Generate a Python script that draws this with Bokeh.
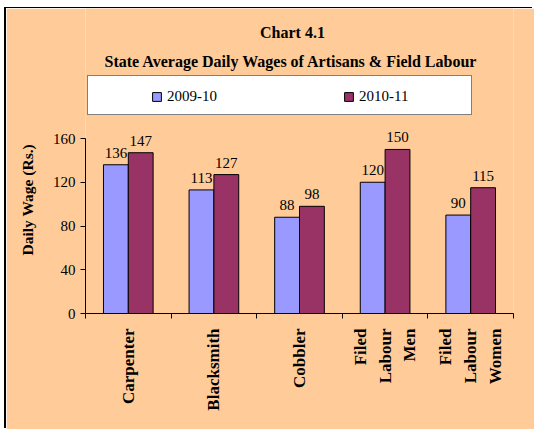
import math
from bokeh.plotting import figure
from bokeh.models import ColumnDataSource, Range1d, FixedTicker, Legend, LegendItem, Label, Title
from bokeh.core.properties import value
from bokeh.embed import file_html
from bokeh.resources import INLINE

# ---- data ----
categories = ["Carpenter", "Blacksmith", "Cobbler", "Filed\nLabour\nMen", "Filed\nLabour\nWomen"]
series_names = ["2009-10", "2010-11"]
wages_2009_10 = [136, 113, 88, 120, 90]
wages_2010_11 = [147, 127, 98, 150, 115]
y_ticks = [0, 40, 80, 120, 160]
chart_title = "Chart 4.1"
chart_subtitle = "State Average Daily Wages of Artisans & Field Labour"
y_label = "Daily Wage (Rs.)"

# ---- style ----
PEACH = "#FFCC99"
BLUE = "#9999FF"
PURPLE = "#993366"
SERIF = "Liberation Serif"
BAR_W = 0.29
W, H = 528, 421
FRAME_L, FRAME_R, FRAME_B = 79, 507, 305
AXIS_PX = 175  # pixel height of the 0..160 axis

n = len(categories)
centers = [i + 0.5 for i in range(n)]
y_top = y_ticks[-1] * FRAME_B / AXIS_PX  # frame reaches the top of the canvas

src = ColumnDataSource(dict(
    x1=[c - BAR_W / 2 for c in centers],
    x2=[c + BAR_W / 2 for c in centers],
    v1=wages_2009_10,
    v2=wages_2010_11,
    t1=[str(v) for v in wages_2009_10],
    t2=[str(v) for v in wages_2010_11],
))

p = figure(width=W, height=H, title=None,
           x_range=Range1d(0, n), y_range=Range1d(0, y_top),
           output_backend="svg", toolbar_location=None,
           min_border_left=FRAME_L, min_border_right=W - FRAME_R,
           min_border_top=0, min_border_bottom=H - FRAME_B,
           background_fill_color=PEACH, border_fill_color=PEACH, outline_line_color=None)
p.styles = {"margin-left": "6px", "margin-top": "8px", "box-shadow": "-2px -1px 0 0 #000000"}
p.grid.visible = False

r1 = p.vbar(x="x1", top="v1", bottom=0, width=BAR_W, source=src,
            fill_color=BLUE, line_color="black", line_width=1)
r2 = p.vbar(x="x2", top="v2", bottom=0, width=BAR_W, source=src,
            fill_color=PURPLE, line_color="black", line_width=1)

for xc, vc, tc in (("x1", "v1", "t1"), ("x2", "v2", "t2")):
    p.text(x=xc, y=vc, text=tc, source=src,
           text_align="center", text_baseline="alphabetic", y_offset=-12,
           text_font=value(SERIF), text_font_size="15px", text_color="#000000")

# x axis
xa = p.xaxis[0]
xa.ticker = FixedTicker(ticks=centers, minor_ticks=list(range(n + 1)))
xa.major_label_overrides = {c: name for c, name in zip(centers, categories)}
xa.major_label_orientation = math.pi / 2
xa.major_label_text_font = SERIF
xa.major_label_text_font_style = "bold"
xa.major_label_text_font_size = "17px"
xa.major_label_text_line_height = 1.3
xa.major_label_text_color = "black"
xa.major_label_standoff = 10
xa.major_tick_out = 0
xa.major_tick_in = 0
xa.minor_tick_out = 5
xa.minor_tick_in = 0
xa.minor_tick_line_color = "black"
xa.axis_line_color = "black"

# y axis
ya = p.yaxis[0]
ya.ticker = FixedTicker(ticks=y_ticks, minor_ticks=[])
ya.bounds = (y_ticks[0], y_ticks[-1])
ya.major_label_text_font = SERIF
ya.major_label_text_font_size = "15px"
ya.major_label_text_color = "black"
ya.major_label_standoff = 5
ya.major_tick_out = 5
ya.major_tick_in = 0
ya.major_tick_line_color = "black"
ya.axis_line_color = "black"

# y axis title, in the left panel
p.add_layout(Title(text=y_label, align="left", offset=58, vertical_align="top",
                   standoff=24, text_line_height=1.0, text_font=SERIF,
                   text_font_style="bold", text_font_size="15.5px",
                   text_color="black"), "left")

# legend box (white frame) and legend content
rd = p.vbar(x=[], top=[], width=0.1, fill_alpha=0, line_alpha=0)
box_legend = Legend(items=[LegendItem(label=" ", renderers=[rd])],
                    location=(2, 198), orientation="horizontal",
                    padding=0, margin=0, spacing=0,
                    glyph_width=10, glyph_height=38, label_width=373, label_height=38,
                    label_standoff=0, label_text_font_size="1px",
                    background_fill_color="white", background_fill_alpha=1,
                    border_line_color="black", border_line_width=1)
content_legend = Legend(items=[LegendItem(label=series_names[0], renderers=[r1]),
                               LegendItem(label=series_names[1], renderers=[r2])],
                        location=(66, 207), orientation="horizontal",
                        padding=0, margin=0, spacing=0,
                        glyph_width=11, glyph_height=11, label_standoff=5,
                        label_width=176, label_height=20,
                        label_text_font=SERIF, label_text_font_size="15px",
                        label_text_color="black",
                        background_fill_alpha=0, border_line_color=None)
p.add_layout(box_legend)
p.add_layout(content_legend)

# titles
p.add_layout(Label(x=207, y=281, x_units="screen", y_units="screen", text=chart_title,
                   text_align="center", text_baseline="alphabetic",
                   text_font=SERIF, text_font_style="bold", text_font_size="16px",
                   text_color="black"))
p.add_layout(Label(x=206, y=252, x_units="screen", y_units="screen", text=chart_subtitle,
                   text_align="center", text_baseline="alphabetic",
                   text_font=SERIF, text_font_style="bold", text_font_size="16px",
                   text_color="black"))

open("out.html", "w").write(file_html(p, INLINE))
